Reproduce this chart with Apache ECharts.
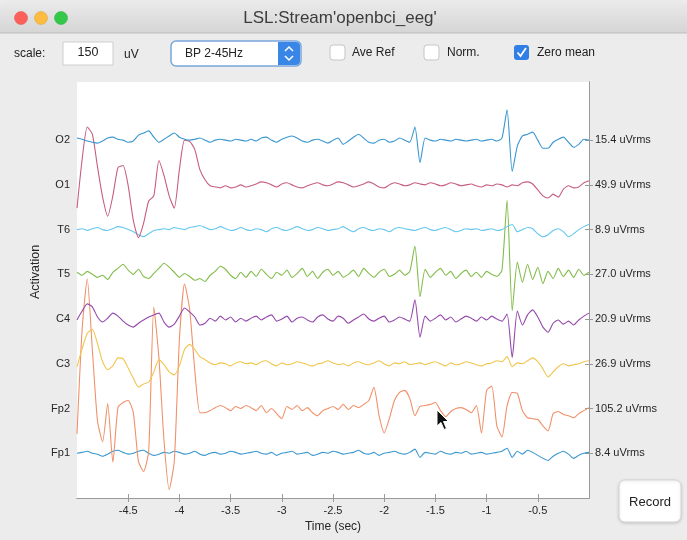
<!DOCTYPE html>
<html>
<head>
<meta charset="utf-8">
<script src="https://cdn.jsdelivr.net/npm/echarts@6/dist/echarts.min.js"></script>
<style>
  html, body { margin: 0; padding: 0; background: #ffffff; }
  #chart { width: 687px; height: 540px; }
</style>
</head>
<body>
<div id="chart"></div>
<script>
// channels from bottom to top, with their rms readout on the right
const CHANNELS = ['Fp1', 'Fp2', 'C3', 'C4', 'T5', 'T6', 'O1', 'O2'];
const RMS_LABELS = ['8.4 uVrms', '105.2 uVrms', '26.9 uVrms', '20.9 uVrms', '27.0 uVrms', '8.9 uVrms', '49.9 uVrms', '15.4 uVrms'];
const COLORS = ['#3a97d0', '#f0916a', '#f1c54c', '#9448aa', '#83bd4c', '#66c8ee', '#c75d7e', '#3a97d0'];
const X_TICKS = [-4.5, -4, -3.5, -3, -2.5, -2, -1.5, -1, -0.5];

const SCALE = 150;       // uV per channel spacing
const T_START = -5;      // sec
const T_STEP = 0.05;     // sec between samples

// samples in uV (zero mean), one per 0.05 s from -5 s to 0 s
const fp1 = [0,3,7,0,-3,-10,-3,7,10,3,-3,0,7,10,0,-7,-3,3,0,7,3,-3,0,7,-3,-7,0,3,-3,0,7,3,-3,0,
  3,7,0,-3,3,-7,0,3,7,-3,0,3,-7,-3,3,0,7,3,-3,0,3,10,0,-3,3,-7,0,3,7,0,-3,3,14,-14,
  3,0,-3,7,0,-3,3,0,7,-3,0,3,-3,0,3,7,17,-14,7,-3,10,3,-7,-17,-24,-10,0,7,-3,-17,-7,0,3];
const fp2 = [-85,265,435,197,-41,-112,17,-180,3,20,27,-14,-177,-211,-143,340,170,-109,-272,-177,231,418,333,129,-14,-14,-7,3,10,3,-7,7,0,10,
  3,-7,10,-14,0,-17,-34,7,-3,10,-7,3,-14,-24,-7,0,7,-3,14,-3,10,3,14,27,71,-24,-82,-34,27,54,61,34,-24,7,
  10,14,20,-7,-27,-10,0,3,-3,-14,10,-82,61,75,-58,-95,10,54,51,-7,-31,-34,-37,-58,-75,-17,-10,-20,-24,-31,-17,-7,3];
const c3 = [-10,51,102,116,68,7,-20,-7,20,17,-14,-48,-78,-68,-61,-27,14,-3,-27,-37,-7,48,65,48,24,14,3,-3,3,0,-7,3,7,0,
  3,-3,7,10,0,-7,3,-3,0,7,3,-3,-7,0,3,10,3,-3,0,-7,3,7,0,-3,3,10,0,-7,3,0,7,-3,0,3,
  -3,3,7,0,-7,3,-3,0,7,3,-3,-7,0,3,10,7,24,-10,3,0,10,20,7,-17,-44,-27,-10,0,-7,-3,0,7,10];
const c4 = [-3,27,51,41,7,-10,3,20,10,-7,-20,-27,-14,-3,7,14,20,-10,-27,-17,10,37,24,7,-20,-14,3,-7,10,-3,7,-10,3,-7,
  3,10,-3,7,14,-7,0,10,-10,3,7,-3,-10,7,14,0,-7,10,3,-14,-3,7,17,0,-7,3,10,-10,-3,7,0,-7,
  65,-61,
  10,-7,3,14,-3,7,-10,0,10,3,-7,7,-3,10,0,-7,
  17,-129,
  27,-20,14,31,7,-27,-44,-14,-3,-17,-7,-20,-3,10,20];
const t5 = [7,-3,10,0,-10,-3,-17,7,20,34,14,0,17,-7,-14,3,20,37,24,7,-10,3,-7,-20,-14,-24,-3,10,27,17,-3,-14,7,-10,
  10,-7,17,0,-14,7,-3,14,-10,3,20,-7,10,-14,7,17,-3,10,-10,0,14,-7,20,3,-10,7,17,-7,0,14,-3,10,
  95,-75,
  17,-10,7,20,-3,10,-14,3,14,-7,7,-10,10,0,-7,14,
  248,-122,
  41,-27,34,-17,24,-31,10,-14,20,-7,14,-10,17,-3,7];
const t6 = [0,3,-3,3,7,0,-3,3,10,7,0,-7,-17,-24,-14,-3,0,3,0,7,3,0,7,10,14,7,0,3,10,3,-3,0,7,0,
  -3,3,0,-7,3,7,0,-3,3,10,3,-3,0,7,3,-3,0,3,10,0,-7,3,7,0,-3,3,0,-7,3,7,3,0,-3,3,
  7,0,-3,3,7,0,-7,-3,3,0,3,-3,0,3,-3,0,10,17,-7,0,7,3,-14,-24,-17,-3,3,-7,-24,-14,0,10,17];
const o1 = [-78,85,194,170,61,-41,-105,-37,58,65,-3,-119,-177,-129,-54,-37,82,31,-37,-78,51,150,146,119,51,17,-3,
  -7,-10,-3,-10,-7,0,-7,
  -3,3,10,7,0,-7,3,7,0,-7,-10,-3,3,7,0,-3,3,10,7,0,-7,-3,3,10,3,-7,-10,0,7,3,-3,0,7,3,
  0,7,3,-3,0,7,3,-3,0,3,-3,-7,0,-3,3,0,-7,0,-3,7,10,3,-17,-37,-44,-31,-41,-14,-3,-10,-7,7,14];
const o2 = [7,3,-3,-7,-10,-3,7,10,3,0,-7,-3,17,24,31,10,-7,3,14,24,10,3,0,3,7,0,-7,0,3,0,-3,3,0,-3,
  3,-3,7,10,0,-7,3,10,14,7,-3,-7,0,3,-3,-10,0,7,-14,-3,10,20,7,-7,-10,0,3,-7,-3,7,0,-7,
  44,-75,
  7,0,-3,3,0,-3,3,0,-3,0,3,-3,0,3,-3,7,
  102,-105,
  -20,14,20,27,0,-27,-27,-7,3,10,-7,-24,-14,3,0];

const SIGNALS = [fp1, fp2, c3, c4, t5, t6, o1, o2];
const CH_POS = [1, 2, 3, 4, 5, 6, 7, 8];

const FONT = '"Liberation Sans", Arial, sans-serif';

const chart = echarts.init(document.getElementById('chart'), null, { renderer: 'canvas' });

const series = SIGNALS.map((sig, i) => ({
  name: CHANNELS[i],
  type: 'line',
  showSymbol: false,
  animation: false,
  smooth: 0.2,
  xAxisIndex: 0,
  yAxisIndex: 0,
  lineStyle: { color: COLORS[i], width: 1.1 },
  data: sig.map((v, k) => [+(T_START + k * T_STEP).toFixed(2), CH_POS[i] + v / SCALE])
}));

const axisGray = '#9a9a9a';

const option = {
  backgroundColor: '#ffffff',
  animation: false,
  grid: { left: 77, right: 98, top: 82, bottom: 42, show: true, backgroundColor: '#ffffff', borderWidth: 0 },
  xAxis: [
    {
      type: 'value', min: -5, max: 0, interval: 0.5, position: 'bottom',
      axisLine: { show: true, lineStyle: { color: axisGray, width: 1 } },
      axisTick: { show: true, inside: true, length: 4, customValues: X_TICKS, lineStyle: { color: axisGray } },
      axisLabel: { customValues: X_TICKS, color: '#262626', fontSize: 11, fontFamily: FONT, margin: 7 },
      splitLine: { show: false },
      name: 'Time (sec)', nameLocation: 'middle', nameGap: 22,
      nameTextStyle: { color: '#262626', fontSize: 12, fontFamily: FONT }
    },
    {
      type: 'value', min: -5, max: 0, interval: 0.5, position: 'top',
      axisLine: { show: true, lineStyle: { color: axisGray, width: 1 } },
      axisTick: { show: true, inside: true, length: 4, customValues: X_TICKS, lineStyle: { color: axisGray } },
      axisLabel: { show: false },
      splitLine: { show: false }
    }
  ],
  yAxis: [
    {
      type: 'value', min: 0, max: 9.3, position: 'left',
      axisLine: { show: true, lineStyle: { color: axisGray, width: 1 } },
      axisTick: { show: true, inside: true, length: 4, customValues: CH_POS, lineStyle: { color: axisGray } },
      axisLabel: {
        customValues: CH_POS, color: '#262626', fontSize: 11, fontFamily: FONT, margin: 7,
        formatter: v => CHANNELS[Math.round(v) - 1]
      },
      splitLine: { show: false }
    },
    {
      type: 'value', min: 0, max: 9.3, position: 'right',
      axisLine: { show: true, lineStyle: { color: axisGray, width: 1 } },
      axisTick: { show: true, inside: true, length: 4, customValues: CH_POS, lineStyle: { color: axisGray } },
      axisLabel: {
        customValues: CH_POS, color: '#262626', fontSize: 11, fontFamily: FONT, margin: 6,
        formatter: v => RMS_LABELS[Math.round(v) - 1]
      },
      splitLine: { show: false }
    }
  ],
  graphic: [
    // window body + title bar
    { type: 'rect', z: -10, shape: { x: 0, y: 0, width: 687, height: 540 }, style: { fill: '#ececec' }, silent: true },
    {
      type: 'rect', z: -9, shape: { x: 0, y: 0, width: 687, height: 33, r: [6, 6, 0, 0] },
      style: { fill: new echarts.graphic.LinearGradient(0, 0, 0, 1, [{ offset: 0, color: '#ebebeb' }, { offset: 1, color: '#d5d5d5' }]) }
    },
    { type: 'line', shape: { x1: 0, y1: 33, x2: 687, y2: 33 }, style: { stroke: '#bdbdbd', lineWidth: 1 } },
    { type: 'circle', shape: { cx: 21, cy: 18, r: 6.5 }, style: { fill: '#fc605b', stroke: '#de4a45', lineWidth: 0.5 } },
    { type: 'circle', shape: { cx: 41, cy: 18, r: 6.5 }, style: { fill: '#fdbc40', stroke: '#de9f34', lineWidth: 0.5 } },
    { type: 'circle', shape: { cx: 61, cy: 18, r: 6.5 }, style: { fill: '#34c84a', stroke: '#27aa35', lineWidth: 0.5 } },
    {
      type: 'text', x: 340, y: 18,
      style: { text: "LSL:Stream'openbci_eeg'", fill: '#3c3c3c', font: '17px ' + FONT, textAlign: 'center', textVerticalAlign: 'middle' }
    },

    // toolbar
    { type: 'text', x: 14, y: 54, style: { text: 'scale:', fill: '#222', font: '12px ' + FONT, textVerticalAlign: 'middle' } },
    { type: 'rect', shape: { x: 63, y: 42, width: 50, height: 23 }, style: { fill: '#fff', stroke: '#cfcfcf', lineWidth: 1 } },
    { type: 'text', x: 88, y: 53, style: { text: '150', fill: '#222', font: '12.5px ' + FONT, textAlign: 'center', textVerticalAlign: 'middle' } },
    { type: 'text', x: 124, y: 55, style: { text: 'uV', fill: '#222', font: '12px ' + FONT, textVerticalAlign: 'middle' } },
    { type: 'rect', shape: { x: 171, y: 41, width: 130, height: 25, r: 5 }, style: { fill: '#fff', stroke: '#7aa7dc', lineWidth: 1.5 } },
    { type: 'text', x: 185, y: 54, style: { text: 'BP 2-45Hz', fill: '#222', font: '12px ' + FONT, textVerticalAlign: 'middle' } },
    { type: 'rect', shape: { x: 278, y: 42, width: 22, height: 23, r: [0, 4, 4, 0] }, style: { fill: '#3a86e6' } },
    { type: 'polyline', shape: { points: [[285, 51], [289, 47], [293, 51]] }, style: { stroke: '#fff', lineWidth: 1.5, fill: null } },
    { type: 'polyline', shape: { points: [[285, 56], [289, 60], [293, 56]] }, style: { stroke: '#fff', lineWidth: 1.5, fill: null } },
    { type: 'rect', shape: { x: 330, y: 45, width: 15, height: 15, r: 3 }, style: { fill: '#fff', stroke: '#c6c6c6', lineWidth: 1 } },
    { type: 'text', x: 352, y: 53, style: { text: 'Ave Ref', fill: '#222', font: '12px ' + FONT, textVerticalAlign: 'middle' } },
    { type: 'rect', shape: { x: 424, y: 45, width: 15, height: 15, r: 3 }, style: { fill: '#fff', stroke: '#c6c6c6', lineWidth: 1 } },
    { type: 'text', x: 447, y: 53, style: { text: 'Norm.', fill: '#222', font: '12px ' + FONT, textVerticalAlign: 'middle' } },
    { type: 'rect', shape: { x: 514, y: 45, width: 15, height: 15, r: 3 }, style: { fill: '#2f7fe6' } },
    { type: 'polyline', shape: { points: [[517.5, 52.5], [520.5, 56], [526, 48]] }, style: { stroke: '#fff', lineWidth: 1.8, fill: null } },
    { type: 'text', x: 537, y: 53, style: { text: 'Zero mean', fill: '#222', font: '12px ' + FONT, textVerticalAlign: 'middle' } },

    // y label
    {
      type: 'text', x: 36, y: 272, rotation: Math.PI / 2,
      style: { text: 'Activation', fill: '#262626', font: '12.5px ' + FONT, textAlign: 'center', textVerticalAlign: 'middle' }
    },

    // record button
    {
      type: 'rect', shape: { x: 619, y: 480, width: 62, height: 42, r: 6 },
      style: { fill: '#ffffff', stroke: '#d6d6d6', lineWidth: 1, shadowBlur: 3, shadowColor: 'rgba(0,0,0,0.15)', shadowOffsetY: 1 }
    },
    { type: 'text', x: 650, y: 502, style: { text: 'Record', fill: '#222', font: '13px ' + FONT, textAlign: 'center', textVerticalAlign: 'middle' } },

    // mouse pointer
    {
      type: 'polygon', z: 100,
      shape: { points: [[437, 410], [437, 426], [441, 422.5], [444, 429.5], [446.5, 428.5], [443.5, 421.5], [448.5, 421.5]] },
      style: { fill: '#111', stroke: '#fff', lineWidth: 1 }
    }
  ],
  series: series
};

chart.setOption(option);
</script>
</body>
</html>
